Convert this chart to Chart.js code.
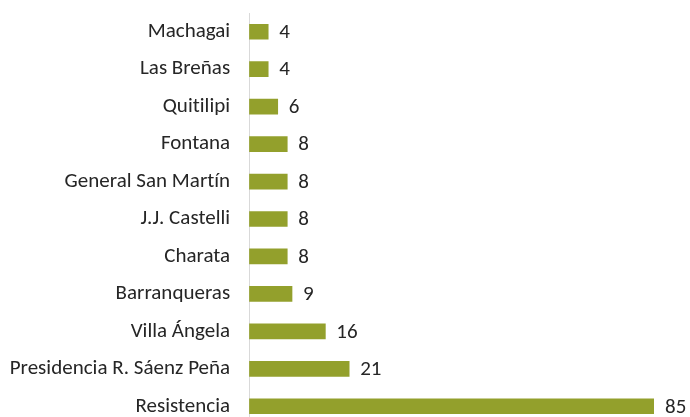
<!DOCTYPE html>
<html>
<head>
<meta charset="utf-8">
<script src="https://cdn.jsdelivr.net/npm/chart.js@4"></script>
<style>
  html, body { margin: 0; padding: 0; background: #fff; overflow: hidden; }
</style>
</head>
<body>
<canvas id="grafico" width="690" height="438"></canvas>
<script>
// datos
const localidades = ["Machagai", "Las Breñas", "Quitilipi", "Fontana", "General San Martín",
  "J.J. Castelli", "Charata", "Barranqueras", "Villa Ángela", "Presidencia R. Sáenz Peña", "Resistencia"];
const cantidades = [4, 4, 6, 8, 8, 8, 8, 9, 16, 21, 85];

const fuente = "Carlito, Calibri, 'Open Sans', sans-serif";

// sin ligaduras (la "ti" de Martín)
const sinLigaduras = {
  id: "sinLigaduras",
  beforeDraw(chart) {
    chart.ctx.letterSpacing = "0.01px";
  }
};

// etiquetas de valor al final de cada barra
const etiquetasValor = {
  id: "etiquetasValor",
  afterDatasetsDraw(chart) {
    const ctx = chart.ctx;
    const meta = chart.getDatasetMeta(0);
    ctx.save();
    ctx.font = "21px " + fuente;
    ctx.fillStyle = "#262626";
    ctx.textBaseline = "middle";
    ctx.textAlign = "left";
    meta.data.forEach((bar, i) => {
      ctx.fillText(String(cantidades[i]), bar.x + 11, bar.y + 1);
    });
    ctx.restore();
  }
};

new Chart(document.getElementById("grafico"), {
  type: "bar",
  data: {
    labels: localidades,
    datasets: [{
      data: cantidades,
      backgroundColor: "#93A02C",
      barThickness: 15
    }]
  },
  options: {
    indexAxis: "y",
    responsive: false,
    animation: false,
    layout: { padding: { top: 13, right: 36, bottom: 13, left: 10 } },
    plugins: { legend: { display: false }, tooltip: { enabled: false } },
    scales: {
      x: {
        min: 0,
        max: 85,
        display: false
      },
      y: {
        grid: {
          display: true,
          drawOnChartArea: false,
          drawTicks: true,
          tickLength: 19,
          color: "rgba(0,0,0,0)",
          tickColor: "rgba(0,0,0,0)"
        },
        border: { display: true, color: "#d9d9d9", width: 1 },
        ticks: {
          color: "#262626",
          padding: 0,
          font: { family: fuente, size: 21 }
        }
      }
    }
  },
  plugins: [sinLigaduras, etiquetasValor]
});
</script>
</body>
</html>
